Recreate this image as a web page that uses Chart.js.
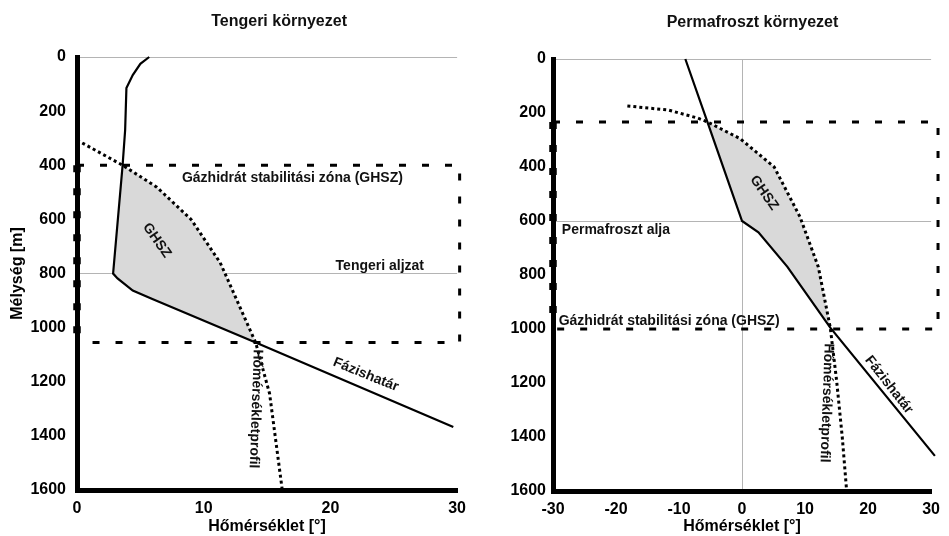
<!DOCTYPE html>
<html>
<head>
<meta charset="utf-8">
<script src="https://cdn.jsdelivr.net/npm/chart.js@4.4.1/dist/chart.umd.min.js"></script>
<style>
    body { margin: 0; background: #fff; }
    #wrap { position: relative; width: 949px; height: 536px; }
    .box { position: absolute; top: 0; height: 536px; }
</style>
</head>
<body>
<div id="wrap">
    <div class="box" style="left:0;width:475px"><canvas id="left"></canvas></div>
    <div class="box" style="left:475px;width:474px"><canvas id="right"></canvas></div>
</div>
<script>
const depthTicks = [0, 200, 400, 600, 800, 1000, 1200, 1400, 1600];
const marineTempTicks = [0, 10, 20, 30];
const permaTempTicks = [-30, -20, -10, 0, 10, 20, 30];

// Tengeri környezet
const marineSolidT = [5.7, 5.0, 4.4, 3.9, 3.8, 3.6, 2.85, 3.2, 4.4, 5.9, 14.1, 29.7];
const marineSolidD = [0, 25, 67, 115, 270, 400, 800, 818, 863, 893, 1055, 1367];
const marineDotT = [0, 3.6, 6.3, 9.0, 11.3, 14.1, 15.2, 16.2];
const marineDotD = [307, 400, 481, 600, 760, 1055, 1244, 1600];
const marineBoxT = [0, 30.2];
const marineBoxD = [400, 1055];
const marineZone = [400, 1055];
const marineGridD = [0, 800];
const marineGridT = [];

// Permafroszt környezet
const permaSolidT = [-9.0, -5.5, 0, 2.6, 7.2, 14.0, 30.6];
const permaSolidD = [0, 233, 600, 642, 770, 995, 1470];
const permaDotT = [-18.2, -11.7, -7.0, -5.5, -0.3, 5.1, 9.2, 12.1, 14.0, 15.0, 15.9, 16.6];
const permaDotD = [174, 189, 219, 233, 295, 400, 585, 770, 995, 1190, 1400, 1600];
const permaBoxT = [-30, 31.1];
const permaBoxD = [233, 1000];
const permaZone = [233, 995];
const permaGridD = [0, 600];
const permaGridT = [0];

const FONT = '"Liberation Sans", Arial, sans-serif';
const GRAY = '#b4b4b4';

const xy = (T, D) => T.map((t, i) => ({ x: t, y: D[i] }));

const zonePoints = (solT, solD, dotT, dotD, range) => {
    const a = xy(solT, solD).filter(p => p.y >= range[0] && p.y <= range[1]);
    const b = xy(dotT, dotD).filter(p => p.y >= range[0] && p.y <= range[1]);
    return a.concat(b.reverse());
};

// top, right and bottom edge of the dashed box
const boxPoints = (T, D) => [
    { x: T[0], y: D[0] }, { x: T[1], y: D[0] }, { x: T[1], y: D[1] }, { x: T[0], y: D[1] }
];
// left edge sits on the axis, drawn a bit wider so the dashes show
const boxLeftEdge = (T, D) => [{ x: T[0], y: D[0] }, { x: T[0], y: D[1] }];

const notesPlugin = (items) => ({
    id: 'notes',
    afterDatasetsDraw(chart) {
        const { ctx, scales: { x, y } } = chart;
        ctx.save();
        ctx.fillStyle = '#111';
        items.forEach(n => {
            ctx.save();
            ctx.translate(x.getPixelForValue(n.t), y.getPixelForValue(n.d));
            ctx.rotate((n.rot || 0) * Math.PI / 180);
            ctx.font = `bold ${n.size || 14}px ${FONT}`;
            ctx.textAlign = n.align || 'center';
            ctx.textBaseline = 'middle';
            ctx.fillText(n.text, 0, 0);
            ctx.restore();
        });
        ctx.restore();
    }
});

const makeChart = (id, c) => {
    const line = (data, extra) => Object.assign({
        data: data, showLine: true, pointRadius: 0, borderColor: '#000',
        borderWidth: 2.2, fill: false, tension: 0, clip: false
    }, extra);

    return new Chart(document.getElementById(id), {
        type: 'scatter',
        data: {
            datasets: [
                line(xy(c.solT, c.solD), {}),
                line(xy(c.dotT, c.dotD), { borderWidth: 3, borderDash: [3, 3] }),
                line(boxPoints(c.boxT, c.boxD), { borderWidth: 3, borderDash: [7, 16] }),
                line(boxLeftEdge(c.boxT, c.boxD), { borderWidth: 7.5, borderDash: [7, 16] }),
                line(zonePoints(c.solT, c.solD, c.dotT, c.dotD, c.zone),
                    { borderWidth: 0, fill: 'shape', backgroundColor: '#d9d9d9' })
            ]
        },
        options: {
            responsive: true,
            maintainAspectRatio: false,
            animation: false,
            layout: { padding: c.padding },
            plugins: { legend: { display: false }, tooltip: { enabled: false } },
            scales: {
                x: {
                    type: 'linear', min: c.tempTicks[0], max: c.tempTicks[c.tempTicks.length - 1],
                    afterBuildTicks: s => { s.ticks = c.tempTicks.map(v => ({ value: v })); },
                    afterFit: s => { s.height = c.xHeight; },
                    grid: {
                        drawTicks: false, lineWidth: 1,
                        color: ctx => (ctx.tick && c.gridT.includes(ctx.tick.value)) ? GRAY : 'rgba(0,0,0,0)'
                    },
                    border: { color: '#000', width: 5 },
                    ticks: {
                        color: '#000', padding: 9, callback: v => String(v),
                        font: { family: FONT, size: 16, weight: 'bold' }
                    },
                    title: {
                        display: true, text: 'Hőmérséklet [°]', color: '#000',
                        padding: { top: 0, bottom: 0 }, font: { family: FONT, size: 16, weight: 'bold' }
                    }
                },
                y: {
                    type: 'linear', reverse: true, min: 0, max: 1600,
                    afterBuildTicks: s => { s.ticks = depthTicks.map(v => ({ value: v })); },
                    afterFit: s => { s.width = c.yWidth; },
                    grid: {
                        drawTicks: false, lineWidth: 1,
                        color: ctx => (ctx.tick && c.gridD.includes(ctx.tick.value)) ? GRAY : 'rgba(0,0,0,0)'
                    },
                    border: { color: '#000', width: 5 },
                    ticks: {
                        color: '#000', padding: c.yPad, callback: v => String(v),
                        font: { family: FONT, size: 16, weight: 'bold' }
                    },
                    title: {
                        display: c.yTitle, text: 'Mélység [m]', color: '#000',
                        padding: { top: 8, bottom: 0 }, font: { family: FONT, size: 16, weight: 'bold' }
                    }
                }
            }
        },
        plugins: [notesPlugin(c.notes)]
    });
};

makeChart('left', {
    solT: marineSolidT, solD: marineSolidD, dotT: marineDotT, dotD: marineDotD,
    boxT: marineBoxT, boxD: marineBoxD, zone: marineZone,
    gridD: marineGridD, gridT: marineGridT, tempTicks: marineTempTicks,
    padding: { top: 57, right: 16, left: 0, bottom: 0 }, xHeight: 46, yWidth: 77, yPad: 11, yTitle: true,
    notes: [
        { text: 'Tengeri környezet', t: 15.95, d: -130, size: 16 },
        { text: 'Gázhidrát stabilitási zóna (GHSZ)', t: 17.0, d: 447 },
        { text: 'GHSZ', t: 6.3, d: 678, rot: 55 },
        { text: 'Tengeri aljzat', t: 23.9, d: 772 },
        { text: 'Fázishatár', t: 22.8, d: 1174, rot: 22 },
        { text: 'Hőmérsékletprofil', t: 14.1, d: 1300, rot: 92 }
    ]
});

makeChart('right', {
    solT: permaSolidT, solD: permaSolidD, dotT: permaDotT, dotD: permaDotD,
    boxT: permaBoxT, boxD: permaBoxD, zone: permaZone,
    gridD: permaGridD, gridT: permaGridT, tempTicks: permaTempTicks,
    padding: { top: 59, right: 13, left: 0, bottom: 0 }, xHeight: 45, yWidth: 78, yPad: 7, yTitle: false,
    notes: [
        { text: 'Permafroszt környezet', t: 1.65, d: -133, size: 16 },
        { text: 'GHSZ', t: 3.5, d: 496, rot: 55 },
        { text: 'Permafroszt alja', t: -28.6, d: 633, align: 'left' },
        { text: 'Gázhidrát stabilitási zóna (GHSZ)', t: -29.1, d: 972, align: 'left' },
        { text: 'Hőmérsékletprofil', t: 13.4, d: 1274, rot: 92 },
        { text: 'Fázishatár', t: 23.3, d: 1207, rot: 52 }
    ]
});
</script>
</body>
</html>
